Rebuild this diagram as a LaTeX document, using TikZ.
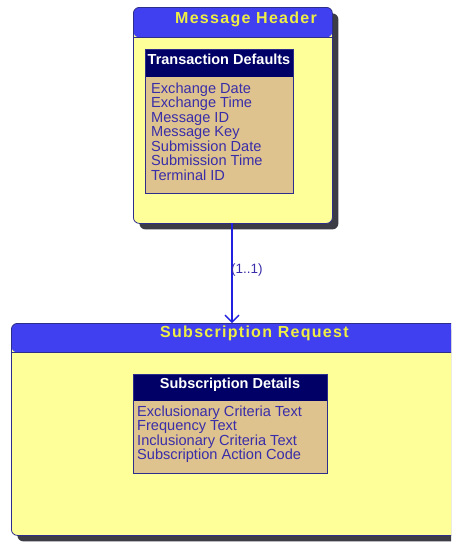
\documentclass[tikz,border=0pt]{standalone}
\usepackage{fontspec}
\setmainfont{Liberation Sans}
\newfontfamily\titlefont[LetterSpace=8]{Liberation Sans}
\usetikzlibrary{arrows.meta,shadows}
\definecolor{hdrblue}{HTML}{4040F0}
\definecolor{titleyellow}{HTML}{EEEE44}
\definecolor{bodyyellow}{HTML}{FFFF99}
\definecolor{navy}{HTML}{000066}
\definecolor{tan}{HTML}{DEC38F}
\definecolor{itemtext}{HTML}{3A2DA8}
\definecolor{bordercol}{HTML}{2D2D8C}
\definecolor{shadowcol}{HTML}{3C3C46}
\definecolor{arrowcol}{HTML}{2020E0}
\tikzset{
  outerbox/.style={draw=bordercol, line width=0.8pt, fill=bodyyellow, rounded corners=6pt,
    anchor=north west, inner sep=0pt,
    drop shadow={shadow xshift=6pt, shadow yshift=-6pt, fill=shadowcol, opacity=1},
    path picture={
      \fill[hdrblue] (path picture bounding box.north west) rectangle ([yshift=-#1]path picture bounding box.north east);
      \draw[bordercol, line width=0.8pt] ([yshift=-#1]path picture bounding box.north west) -- ([yshift=-#1]path picture bounding box.north east);
    }},
  innerbox/.style={draw=bordercol, line width=0.8pt, fill=tan, anchor=north west, inner sep=0pt,
    path picture={
      \fill[navy] (path picture bounding box.north west) rectangle ([yshift=-#1]path picture bounding box.north east);
    }},
  boxtitle/.style={text=titleyellow, font=\titlefont\bfseries\fontsize{16}{16}\selectfont, anchor=base west, inner sep=0pt},
  innertitle/.style={text=white, font=\bfseries\fontsize{14.5}{14.5}\selectfont, anchor=base, inner sep=0pt},
  item/.style={text=itemtext, font=\fontsize{14.6}{14.6}\selectfont, anchor=base west, inner sep=0pt},
  conn/.style={draw=arrowcol, line width=1.4pt, -{Straight Barb[length=7pt, width=14pt, line width=1.4pt]}},
}
\begin{document}
\begin{tikzpicture}[x=1pt,y=-1pt]
\useasboundingbox (0,0) rectangle (451,544);
\clip (0,0) rectangle (451,544);
% Message Header
\node[outerbox=30pt, minimum width=199pt, minimum height=216pt] (mh) at (133,7) {};
\node[boxtitle] (mhtitle) at (175,23) {Message Header};
\node[innerbox=28pt, minimum width=148pt, minimum height=144pt] (td) at (145,49) {};
\node[innertitle] (tdtitle) at (219,64) {Transaction Defaults};
\foreach \t [count=\i] in {Exchange Date, Exchange Time, Message ID, Message Key, Submission Date, Submission Time, Terminal ID}
  \node[item] (td\i) at (151,{93+14.5*(\i-1)}) {\t};
% Subscription Request
\node[outerbox=29pt, minimum width=490pt, minimum height=212pt] (sr) at (11,323) {};
\node[boxtitle] (srtitle) at (160,337) {Subscription Request};
\node[innerbox=27pt, minimum width=194pt, minimum height=99pt] (sd) at (133,374) {};
\node[innertitle] (sdtitle) at (230,388) {Subscription Details};
\foreach \t [count=\i] in {Exclusionary Criteria Text, Frequency Text, Inclusionary Criteria Text, Subscription Action Code}
  \node[item] (sd\i) at (137,{416+14.5*(\i-1)}) {\t};
% connector
\coordinate (start) at (232,223);
\coordinate (end) at (232,323);
\draw[conn] (start) -- (end);
\node[item, anchor=west, font=\fontsize{13.5}{13.5}\selectfont] (mult) at (231,270) {(1..1)};
\end{tikzpicture}
\end{document}
